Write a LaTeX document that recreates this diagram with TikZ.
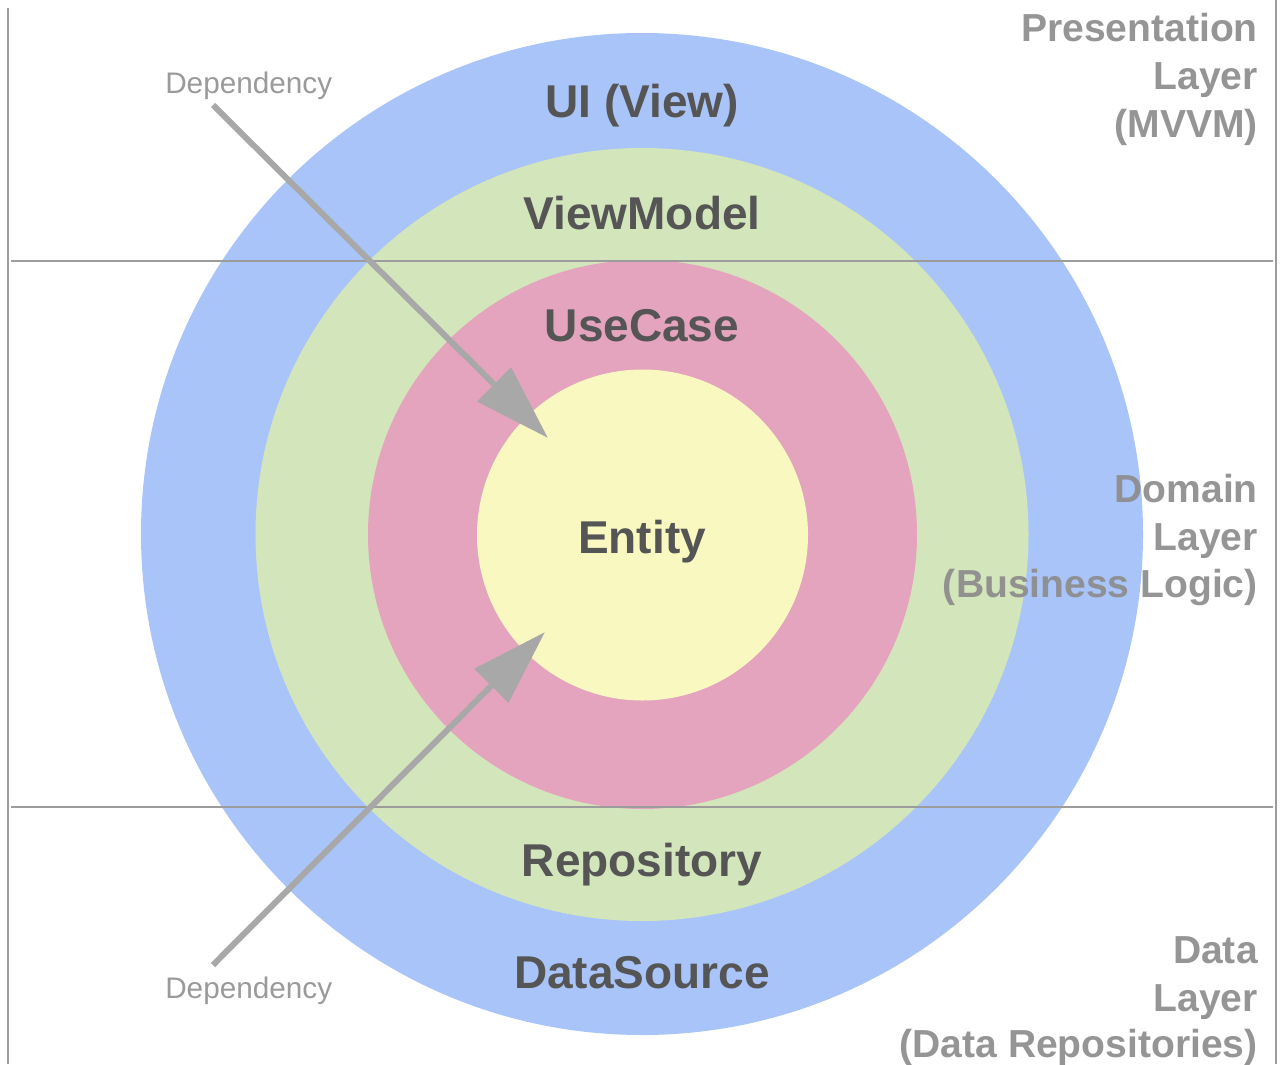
\documentclass[tikz,border=0pt]{standalone}
\usepackage{fontspec}
\setmainfont{Liberation Sans}
\usetikzlibrary{arrows.meta}
\definecolor{ringblue}{HTML}{A9C4F8}
\definecolor{ringgreen}{HTML}{D3E5BA}
\definecolor{ringpink}{HTML}{E4A4BE}
\definecolor{ringyellow}{HTML}{F9F8C0}
\definecolor{ringtext}{HTML}{555555}
\definecolor{layertext}{HTML}{8C8C8C}
\definecolor{deptext}{HTML}{9A9A9A}
\definecolor{rulegray}{HTML}{9C9C9C}
\definecolor{arrowgray}{HTML}{A8A8A8}
\begin{document}
\begin{tikzpicture}[x=0.75pt,y=-0.75pt,
  ring/.style={circle,inner sep=0pt,draw=none},
  ringlabel/.style={anchor=base,inner sep=0pt,text=ringtext,font=\fontsize{34.5}{40}\selectfont\bfseries},
  layerlabel/.style={anchor=base east,inner sep=0pt,text=layertext,text opacity=0.92,font=\fontsize{29.3}{34}\selectfont\bfseries},
  deplabel/.style={anchor=base west,inner sep=0pt,text=deptext,font=\fontsize{22.3}{26}\selectfont},
  divider/.style={draw=rulegray,line width=2pt},
  deparrow/.style={draw=arrowgray,line width=4.5pt,-{Triangle[length=57pt,width=35pt]}}]
\useasboundingbox (0,0) rectangle (1281,1064);
% rings
\node[ring,fill=ringblue,minimum size=751.5pt] (outer) at (642,534) {};
\node[ring,fill=ringgreen,minimum size=579.75pt] (green) at (642,534.5) {};
\node[ring,fill=ringpink,minimum size=411.75pt] (pink) at (642.5,534.5) {};
\node[ring,fill=ringyellow,minimum size=248.25pt] (entity) at (642.5,535) {};
% ring labels
\node[ringlabel] (ui) at (642,117) {UI (View)};
\node[ringlabel] (vm) at (642,229) {ViewModel};
\node[ringlabel] (uc) at (642,341) {UseCase};
\node[ringlabel] (en) at (642,553) {Entity};
\node[ringlabel] (repo) at (642,876) {Repository};
\node[ringlabel] (ds) at (642,988) {DataSource};
% dividers
\coordinate (vl1) at (8,8); \coordinate (vl2) at (8,1064);
\coordinate (vr1) at (1276,0); \coordinate (vr2) at (1276,1064);
\coordinate (h1a) at (11,261); \coordinate (h1b) at (1273,261);
\coordinate (h2a) at (11,807); \coordinate (h2b) at (1273,807);
\draw[divider] (vl1) -- (vl2);
\draw[divider] (vr1) -- (vr2);
\draw[divider] (h1a) -- (h1b);
\draw[divider] (h2a) -- (h2b);
% layer labels
\node[layerlabel] (p1) at (1258,41) {Presentation};
\node[layerlabel] (p2) at (1258,89) {Layer};
\node[layerlabel] (p3) at (1258,137) {(MVVM)};
\node[layerlabel] (d1) at (1258,502) {Domain};
\node[layerlabel] (d2) at (1258,550) {Layer};
\node[layerlabel] (d3) at (1258,597) {(Business Logic)};
\node[layerlabel] (a1) at (1258,963) {Data};
\node[layerlabel] (a2) at (1258,1011) {Layer};
\node[layerlabel] (a3) at (1258,1057) {(Data Repositories)};
% dependency arrows
\node[deplabel] (dep1) at (165,93) {Dependency};
\node[deplabel] (dep2) at (165,998) {Dependency};
\coordinate (t1) at (213,105); \coordinate (k1) at (548,438);
\coordinate (t2) at (213,965); \coordinate (k2) at (545,632);
\draw[deparrow] (t1) -- (k1);
\draw[deparrow] (t2) -- (k2);
\end{tikzpicture}
\end{document}
